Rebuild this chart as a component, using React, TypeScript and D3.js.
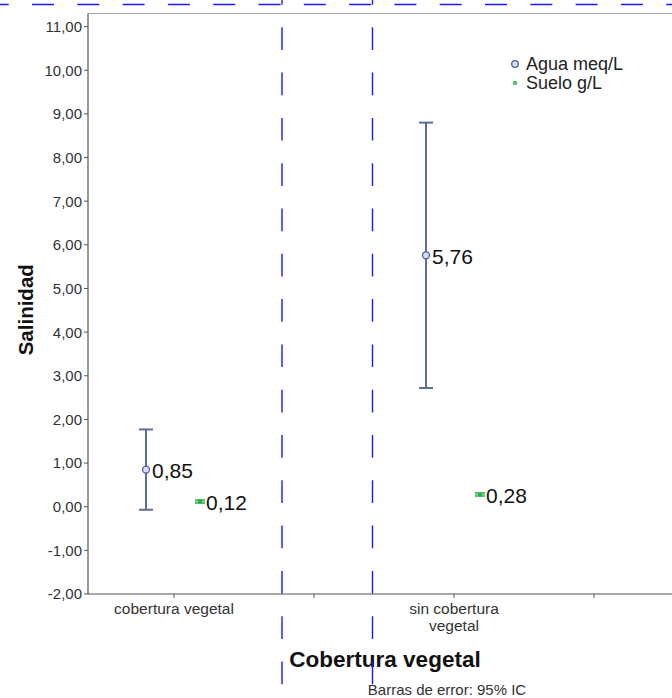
import React from "react";
import * as d3 from "d3";

const categories = ["cobertura vegetal", "sin cobertura vegetal"];
const categoryLines = [["cobertura vegetal"], ["sin cobertura", "vegetal"]];
const seriesNames = ["Agua meq/L", "Suelo g/L"];
const aguaMean = [0.85, 5.76];
const aguaLow = [-0.07, 2.72];
const aguaHigh = [1.77, 8.8];
const sueloMean = [0.12, 0.28];
const sueloLow = [0.09, 0.25];
const sueloHigh = [0.15, 0.31];
const yTicks = [-2, -1, 0, 1, 2, 3, 4, 5, 6, 7, 8, 9, 10, 11];
const xTicks = [0, 0.5, 1, 1.5];

const W = 672;
const H = 698;
const FONT = "'Liberation Sans', Arial, sans-serif";
const AGUA = "#5b6c98";
const AGUA_FILL = "#d9def0";
const SUELO = "#4fc46a";
const DASH = "#1a1aff";

const fmt = d3
  .formatLocale({ decimal: ",", thousands: ".", grouping: [3], currency: ["", ""], minus: "-" })
  .format(".2f");

export default function App() {
  const left = 88;
  const right = 700;
  const top = 13.5;
  const bottom = 594;
  const y = d3.scaleLinear().domain([-2, 11.3]).range([bottom, top]);
  const x = d3.scaleLinear().domain([0, 1]).range([174, 454]);
  const offset = d3.scaleOrdinal<string, number>().domain(seriesNames).range([-28, 26]);

  const series = [
    { name: seriesNames[0], mean: aguaMean, lo: aguaLow, hi: aguaHigh, color: AGUA, cap: 14, sw: 2 },
    { name: seriesNames[1], mean: sueloMean, lo: sueloLow, hi: sueloHigh, color: SUELO, cap: 10, sw: 2.4 },
  ];

  return (
    <svg width={W} height={H} style={{ position: "absolute", left: 0, top: 0, background: "#fff" }} fontFamily={FONT}>
      {/* plot frame */}
      <line x1={left} x2={right} y1={top} y2={top} stroke="#a8a8a8" strokeWidth={1.2} />
      <line x1={left} x2={left} y1={top} y2={bottom} stroke="#555" strokeWidth={1.2} />
      <line x1={left} x2={right} y1={bottom} y2={bottom} stroke="#555" strokeWidth={1.2} />

      {/* y axis */}
      {yTicks.map((t) => (
        <g key={t}>
          <line x1={left - 4} x2={left} y1={y(t)} y2={y(t)} stroke="#555" strokeWidth={1} />
          <text x={left - 6} y={y(t)} dy="0.36em" textAnchor="end" fontSize={15} fill="#333">
            {fmt(t)}
          </text>
        </g>
      ))}
      <text
        transform={`translate(33,${(top + bottom) / 2 + 6}) rotate(-90)`}
        textAnchor="middle"
        fontSize={20.5}
        fontWeight="bold"
        fill="#111"
      >
        Salinidad
      </text>

      {/* x axis */}
      {xTicks.map((t) => (
        <line key={t} x1={x(t)} x2={x(t)} y1={bottom} y2={bottom + 4} stroke="#555" strokeWidth={1} />
      ))}
      {categories.map((c, i) => (
        <text key={c} x={x(i)} y={614} textAnchor="middle" fontSize={15.5} fill="#333">
          {categoryLines[i].map((ln, j) => (
            <tspan key={j} x={x(i)} dy={j === 0 ? 0 : 17}>
              {ln}
            </tspan>
          ))}
        </text>
      ))}
      <text x={385} y={667} textAnchor="middle" fontSize={22.5} fontWeight="bold" fill="#111">
        Cobertura vegetal
      </text>
      <text x={447} y={695} textAnchor="middle" fontSize={15} fill="#333">
        Barras de error: 95% IC
      </text>

      {/* error bars and points */}
      {series.map((s) =>
        categories.map((c, i) => {
          const cx = x(i) + offset(s.name);
          return (
            <g key={s.name + c}>
              <line x1={cx} x2={cx} y1={y(s.lo[i])} y2={y(s.hi[i])} stroke={s.color} strokeWidth={s.sw} />
              <line x1={cx - s.cap / 2} x2={cx + s.cap / 2} y1={y(s.lo[i])} y2={y(s.lo[i])} stroke={s.color} strokeWidth={s.sw} />
              <line x1={cx - s.cap / 2} x2={cx + s.cap / 2} y1={y(s.hi[i])} y2={y(s.hi[i])} stroke={s.color} strokeWidth={s.sw} />
              {s.name === seriesNames[0] ? (
                <circle cx={cx} cy={y(s.mean[i])} r={3.5} fill={AGUA_FILL} stroke="#4d5fa3" strokeWidth={1.3} />
              ) : (
                <circle cx={cx} cy={y(s.mean[i])} r={2} fill="#2fa84c" />
              )}
              <text x={cx + 6} y={y(s.mean[i])} dy="0.4em" fontSize={21} fill="#111">
                {fmt(s.mean[i])}
              </text>
            </g>
          );
        })
      )}

      {/* legend */}
      <circle cx={515} cy={64} r={3.3} fill={AGUA_FILL} stroke="#4d5fa3" strokeWidth={1.3} />
      <text x={526} y={64} dy="0.36em" fontSize={18} fill="#222">
        {seriesNames[0]}
      </text>
      <circle cx={515} cy={83} r={2.3} fill={SUELO} />
      <text x={526} y={83} dy="0.36em" fontSize={18} fill="#222">
        {seriesNames[1]}
      </text>

      {/* blue dashed overlay lines */}
      <line x1={0} x2={W} y1={4.5} y2={4.5} stroke={DASH} strokeWidth={1.4} strokeDasharray="22 23.3" strokeDashoffset={13.3} />
      <line x1={282} x2={282} y1={0} y2={H} stroke={DASH} strokeWidth={1.4} strokeDasharray="22.7 22.6" strokeDashoffset={18} />
      <line x1={372.5} x2={372.5} y1={0} y2={H} stroke={DASH} strokeWidth={1.4} strokeDasharray="22.7 22.6" strokeDashoffset={18} />
    </svg>
  );
}
